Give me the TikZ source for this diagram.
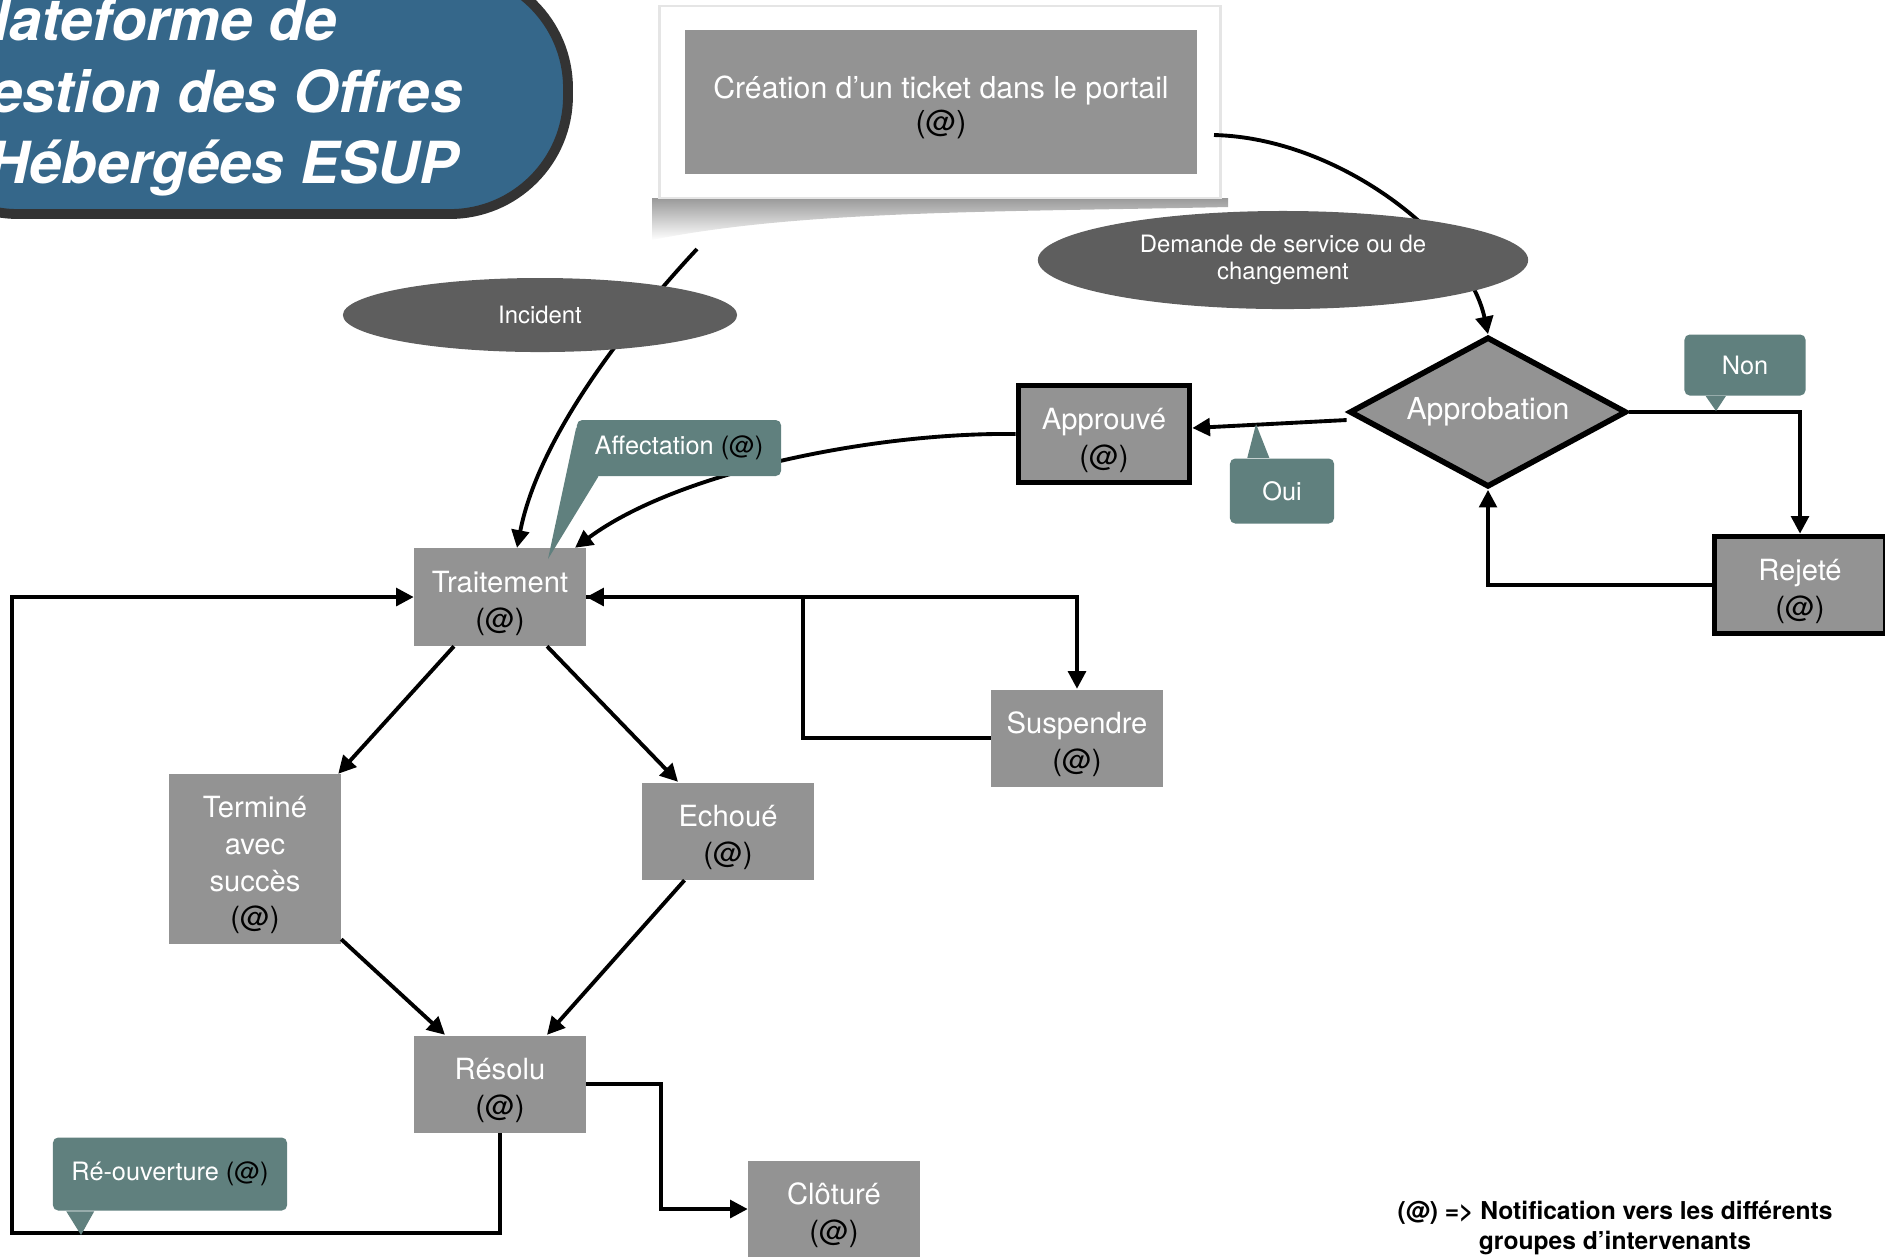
\documentclass[tikz,border=0pt]{standalone}
\usepackage{fontspec}
\setmainfont{TeX Gyre Heros}
\usetikzlibrary{shapes.geometric,arrows.meta}
\definecolor{boxgray}{RGB}{147,147,147}
\definecolor{ovalgray}{RGB}{94,94,94}
\definecolor{notegreen}{RGB}{96,128,126}
\definecolor{titleblue}{RGB}{53,103,138}
\definecolor{titleedge}{RGB}{51,51,51}
\newcommand{\etat}[1]{\rule{0pt}{9.6pt}#1\\\textcolor{black}{(@)}}
\begin{document}
\begin{tikzpicture}[x=0.01cm,y=0.01cm]
	\tikzstyle{every node}+=[inner sep=0pt]
	\tikzstyle{state}=[rectangle, fill=boxgray, text=white, align=center, minimum width=1.71cm, minimum height=0.97cm, font=\fontsize{8.3}{10.4}\selectfont]
	\tikzstyle{ruled}=[state, draw=black, line width=1.6pt]
	\tikzstyle{oval}=[ellipse, fill=ovalgray, text=white, align=center, font=\fontsize{6.8}{7.6}\selectfont]
	\tikzstyle{note}=[rectangle, rounded corners=1.5pt, fill=notegreen, text=white, font=\fontsize{7.2}{8.6}\selectfont]
	\tikzstyle{flow}=[line width=1.1pt, -{Triangle[length=5pt,width=5pt]}]
	\tikzstyle{heading}=[anchor=base east, text=white, font=\bfseries\itshape\fontsize{16.5}{20}\selectfont]
	\useasboundingbox (0,0) rectangle (1885,-1256);
	\clip (0,0) rectangle (1885,-1256);
	% title
	\draw [fill=titleblue, draw=titleedge, line width=2.8pt, rounded corners=1.18cm] (-100,30) -- (568,30) -- (568,-214) -- (-100,-214) -- cycle;
	\node [heading] (t1) at (337,-40) {Plateforme de};
	\node [heading] (t2) at (463,-112) {Gestion des Offres};
	\node [heading] (t3) at (459,-183) {Hébergées ESUP};
	% ticket panel
	\shade [top color=gray!80, bottom color=white] (652,-198) -- (1228,-198) -- (1228,-207) .. controls (1000,-212) and (800,-210) .. (652,-240) -- cycle;
	\node [rectangle, fill=white, draw=gray!20, line width=0.8pt, minimum width=5.61cm, minimum height=1.92cm] (panel) at (940,-102) {};
	\node [state, minimum width=5.12cm, minimum height=1.43cm, font=\fontsize{8.6}{9.8}\selectfont] (creat) at (941,-102) {\etat{Création d’un ticket dans le portail}};
	% states
	\node [ruled] (appr) at (1104,-434) {\etat{Approuvé}};
	\node [diamond, aspect=2, fill=boxgray, draw=black, line width=1.6pt, minimum width=2.77cm, minimum height=1.5cm, text=white, font=\fontsize{8.6}{10}\selectfont] (approb) at (1488,-412) {Approbation};
	\node [ruled] (rej) at (1800,-585) {\etat{Rejeté}};
	\node [state] (trait) at (500,-597) {\etat{Traitement}};
	\node [state] (susp) at (1077,-738) {\etat{Suspendre}};
	\node [state, minimum height=1.69cm] (term) at (255,-859) {\etat{Terminé\\avec\\succès}};
	\node [state] (echec) at (728,-831) {\etat{Echoué}};
	\node [state] (resolu) at (500,-1084) {\etat{Résolu}};
	\node [state] (clos) at (834,-1209) {\etat{Clôturé}};
	\coordinate (dstart) at (1214,-135);
	\coordinate (istart) at (697,-249);
	\coordinate (reopen) at (12,-1233);
	% transitions
	\draw [flow] (dstart) .. controls (1340,-138) and (1468,-240) .. (approb.north);
	\draw [flow] (istart) .. controls (640,-310) and (540,-430) .. ([xshift=0.17cm]trait.north);
	\draw [flow] (appr.west) .. controls (880,-432) and (680,-470) .. ([xshift=0.75cm]trait.north);
	\draw [flow] ([yshift=-0.08cm]approb.west) -- ([yshift=0.06cm]appr.east);
	\draw [flow] (approb.east) -| (rej.north);
	\draw [flow] (rej.west) -| (approb.south);
	\draw [flow] (trait.east) -| (susp.north);
	\draw [flow] (susp.west) -- ++(-188,0) |- (trait.east);
	\draw [flow] ([xshift=-0.46cm]trait.south) -- ([xshift=-0.03cm]term.north east);
	\draw [flow] ([xshift=0.47cm]trait.south) -- ([xshift=-0.5cm]echec.north);
	\draw [flow] ([yshift=0.05cm]term.south east) -- ([xshift=-0.55cm]resolu.north);
	\draw [flow] ([xshift=-0.435cm]echec.south) -- ([xshift=0.47cm]resolu.north);
	\draw [flow] (resolu.east) -- ++(75,0) |- (clos.west);
	\draw [flow] (resolu.south) |- (reopen) |- (trait.west);
	% branch labels
	\node [oval, minimum width=4.9cm, minimum height=0.98cm] (demande) at (1283,-260) {Demande de service ou de\\changement};
	\node [oval, minimum width=3.94cm, minimum height=0.74cm] (incident) at (540,-315) {Incident};
	% notes
	\coordinate (afftip) at (548,-559);
	\coordinate (ouitip) at (1256,-424);
	\coordinate (nontip) at (1716,-411);
	\coordinate (reouvtip) at (81,-1235);
	\node [note, minimum width=2.04cm, minimum height=0.56cm] (affect) at (679,-448) {Affectation \textcolor{black}{(@)}};
	\fill [notegreen] ([yshift=-0.08cm]affect.north west) -- ([xshift=0.22cm]affect.south west) -- (afftip) -- cycle;
	\node [note, minimum width=1.04cm, minimum height=0.65cm] (oui) at (1282,-491) {Oui};
	\fill [notegreen] ([xshift=0.18cm]oui.north west) -- ([xshift=0.40cm]oui.north west) -- (ouitip) -- cycle;
	\node [note, minimum width=1.21cm, minimum height=0.61cm] (non) at (1745,-365) {Non};
	\fill [notegreen] ([xshift=0.22cm]non.south west) -- ([xshift=0.42cm]non.south west) -- (nontip) -- cycle;
	\node [note, minimum width=2.34cm, minimum height=0.73cm] (reouv) at (170,-1174) {Ré-ouverture \textcolor{black}{(@)}};
	\fill [notegreen] ([xshift=0.14cm]reouv.south west) -- ([xshift=0.42cm]reouv.south west) -- (reouvtip) -- cycle;
	% legend
	\node [font=\bfseries\fontsize{7}{8.5}\selectfont, align=center] (legend) at (1615,-1228) {(@) => Notification vers les différents\\groupes d’intervenants};
\end{tikzpicture}
\end{document}
